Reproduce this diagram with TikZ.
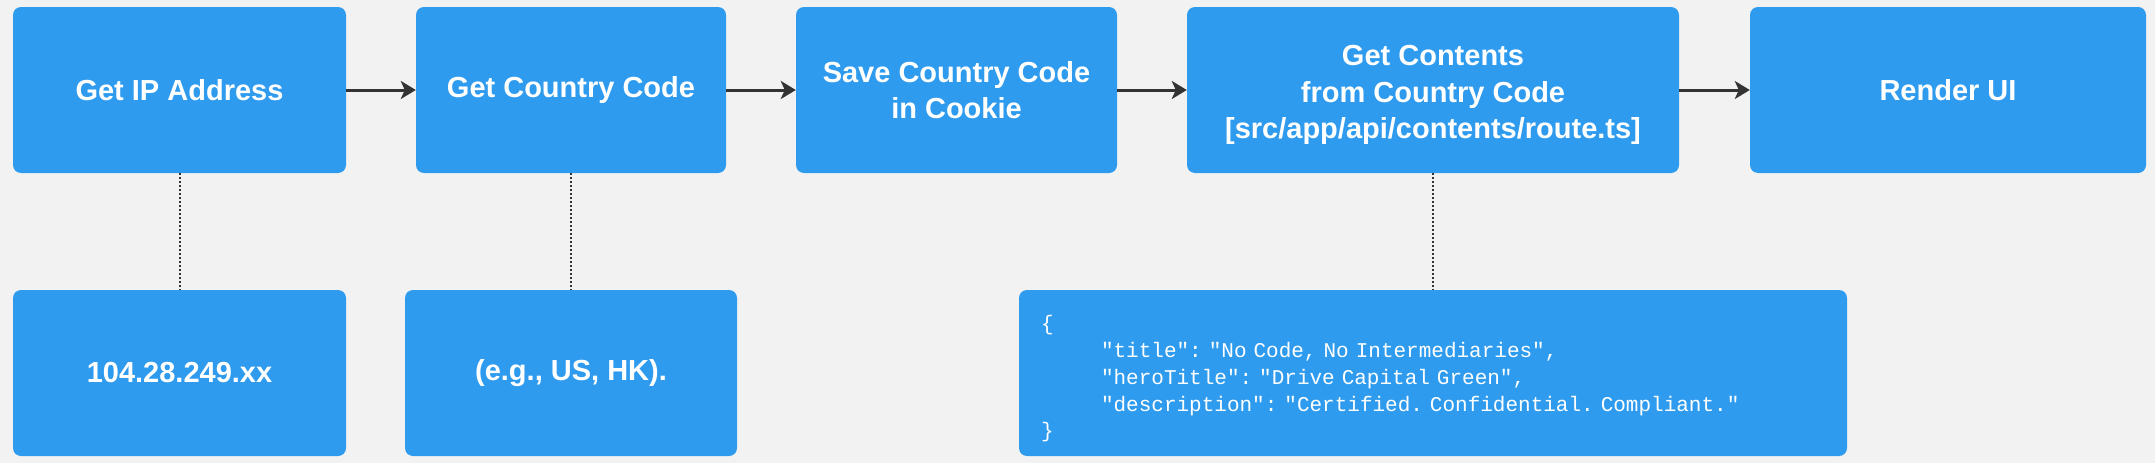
\documentclass[tikz,border=0pt]{standalone}
\usepackage{fontspec}
\setmainfont{Liberation Sans}
\newfontfamily\codefont{Liberation Mono}
\DeclareRobustCommand\codestyle{\codefont\fontsize{21}{26.7}\selectfont
  \fontdimen2\font=\fontcharwd\font`\a\relax\fontdimen3\font=0pt\relax\fontdimen4\font=0pt\relax\frenchspacing}
\usetikzlibrary{arrows.meta}
\definecolor{boxblue}{HTML}{2E9BEF}
\definecolor{pagegray}{HTML}{F2F2F2}
\definecolor{linegray}{HTML}{333333}

\begin{document}
\begin{tikzpicture}[x=1pt, y=-1pt,
    stepbox/.style={fill=boxblue, rounded corners=8pt, text=white, align=center,
      inner sep=0pt, minimum height=166pt, font=\fontsize{29}{36.5}\selectfont\bfseries},
    flow/.style={draw=linegray, line width=3pt, -{Stealth[length=15pt, width=18pt, inset=4pt]}},
    link/.style={draw=linegray, line width=2pt, dotted}]
  \fill[pagegray] (0,0) rectangle (2155,463);

  % top row
  \node[stepbox, minimum width=333pt] (ip) at (179.5,90) {Get IP Address};
  \node[stepbox, minimum width=310pt] (country) at (571,90) {Get Country Code};
  \node[stepbox, minimum width=321pt] (cookie) at (956.5,90) {Save Country Code\\in Cookie};
  \node[stepbox, minimum width=492pt] (contents) at (1433,90) {\rule{0pt}{31pt}Get Contents\\from Country Code\\{[src/app/api/contents/route.ts]}};
  \node[stepbox, minimum width=396pt] (render) at (1948,90) {Render UI};

  % bottom row
  \node[stepbox, minimum width=333pt] (addr) at (179.5,373) {104.28.249.xx};
  \node[stepbox, minimum width=332pt] (example) at (571,373) {(e.g., US, HK).};
  \node[stepbox, minimum width=828pt, align=left, text width=784pt, inner xsep=22pt,
    font=\codestyle] (json) at (1433,373)
    {\rule{0pt}{27pt}\{\\
     \hspace*{60pt}"title": "No Code, No Intermediaries",\\
     \hspace*{60pt}"heroTitle": "Drive Capital Green",\\
     \hspace*{60pt}"description": "Certified. Confidential. Compliant."\\
     \}};

  \draw[flow] (ip) -- (country);
  \draw[flow] (country) -- (cookie);
  \draw[flow] (cookie) -- (contents);
  \draw[flow] (contents) -- (render);

  \draw[link] (ip) -- (addr);
  \draw[link] (country) -- (example);
  \draw[link] (contents) -- (json);
\end{tikzpicture}
\end{document}
